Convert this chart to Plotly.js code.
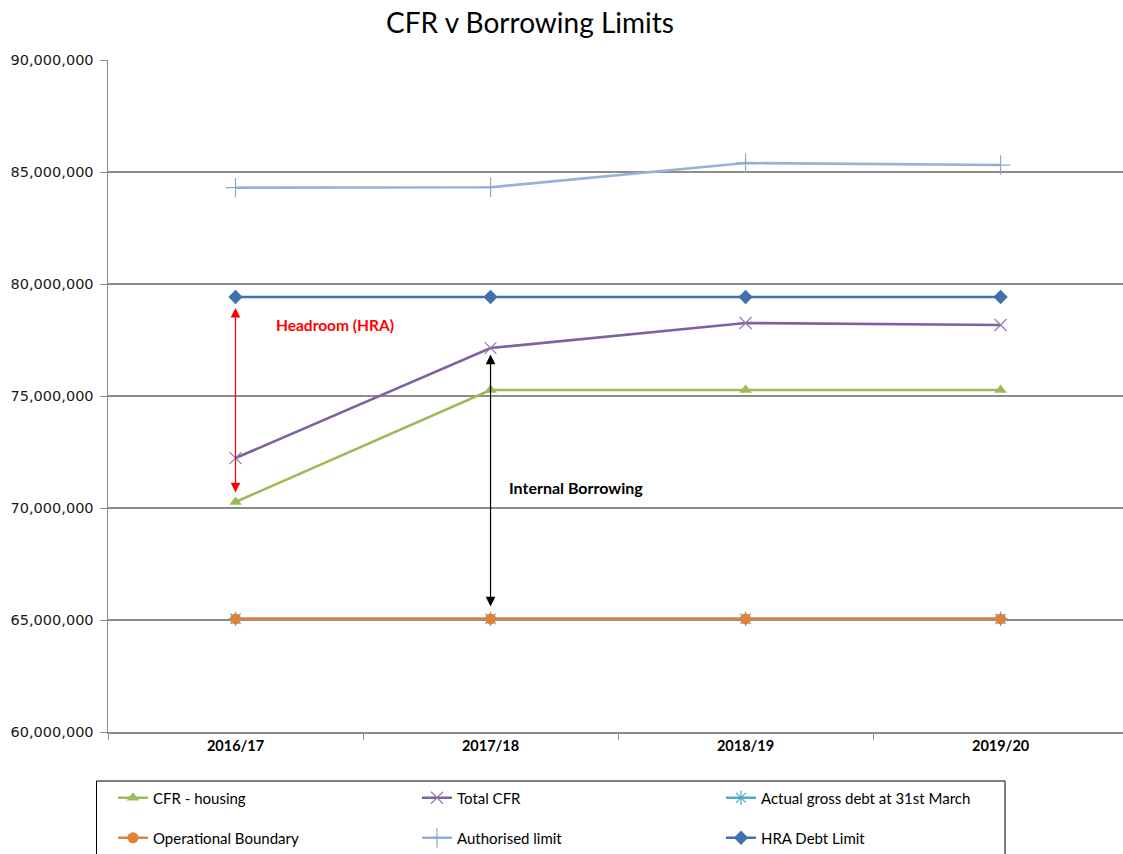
<!DOCTYPE html>
<html>
<head>
<meta charset="utf-8">
<script src="https://cdn.plot.ly/plotly-3.0.1.min.js"></script>
<style>html,body{margin:0;padding:0;background:#fff;}#chart{width:1123px;height:854px;}</style>
</head>
<body>
<div id="chart"></div>
<script>
// ---- data ----
const years = ["2016/17", "2017/18", "2018/19", "2019/20"];
const cfrHousing = [70270000, 75270000, 75270000, 75270000];
const totalCFR = [72230000, 77140000, 78260000, 78170000];
const actualGrossDebt = [65050000, 65050000, 65050000, 65050000];
const operationalBoundary = [65050000, 65050000, 65050000, 65050000];
const authorisedLimit = [84300000, 84320000, 85400000, 85310000];
const hraDebtLimit = [79420000, 79420000, 79420000, 79420000];
const seriesNames = ["CFR - housing", "Total CFR", "Actual gross debt at 31st March",
                     "Operational Boundary", "Authorised limit", "HRA Debt Limit"];
const yTickVals = [60000000, 65000000, 70000000, 75000000, 80000000, 85000000, 90000000];
const headroomArrow = {x: "2016/17", top: 78930000, bottom: 70630000, label: "Headroom (HRA)"};
const internalArrow = {x: "2017/18", top: 76850000, bottom: 65540000, label: "Internal Borrowing"};

const traces = [
  {name: seriesNames[0], y: cfrHousing, color: "#9BBB59",
   marker: {symbol: "triangle-up", size: 11, color: "#9BBB59"}, legend: "legend"},
  {name: seriesNames[1], y: totalCFR, color: "#7E62A0",
   marker: {symbol: "x-thin-open", size: 12, color: "#8F7DB5", line: {width: 1.2, color: "#8F7DB5"}}, legend: "legend"},
  {name: seriesNames[2], y: actualGrossDebt, color: "#4BACC6",
   marker: {symbol: "asterisk-open", size: 12, color: "#4BACC6", line: {width: 1.2, color: "#4BACC6"}}, legend: "legend"},
  {name: seriesNames[3], y: operationalBoundary, color: "#E0823A",
   marker: {symbol: "circle", size: 11, color: "#E0823A"}, legend: "legend2"},
  {name: seriesNames[4], y: authorisedLimit, color: "#95B3D7",
   marker: {symbol: "cross-thin-open", size: 14, color: "#8AA8D0", line: {width: 1.2, color: "#8AA8D0"}}, legend: "legend2"},
  {name: seriesNames[5], y: hraDebtLimit, color: "#3F72AD",
   marker: {symbol: "diamond", size: 11, color: "#3F72AD"}, legend: "legend2"}
].map(t => ({
  type: "scatter", mode: "lines+markers", x: years, y: t.y, name: t.name,
  line: {color: t.color, width: 2.6}, marker: t.marker, legend: t.legend,
  cliponaxis: false
}));

// Plot area: left 108, right 1123, top 60, bottom 732
const px = v => (v - 108) / 1015;
const py = v => (732 - v) / 672;

const legendFont = {family: "Lato, 'Open Sans', sans-serif", size: 15, color: "#000"};

const layout = {
  width: 1123, height: 854,
  margin: {l: 108, r: 0, t: 60, b: 122},
  paper_bgcolor: "#fff", plot_bgcolor: "#fff",
  title: {
    text: "CFR v Borrowing Limits",
    font: {family: "Lato, 'Open Sans', sans-serif", size: 28, color: "#000"},
    x: 530 / 1123, xref: "container", xanchor: "center",
    y: 1 - 23 / 854, yref: "container", yanchor: "middle"
  },
  xaxis: {
    type: "category", range: [-0.5, 3.48],
    showgrid: false, zeroline: false,
    showline: true, linecolor: "#8C8C8C", linewidth: 1.5,
    ticks: "outside", tickson: "boundaries", ticklen: 6, tickcolor: "#8C8C8C", tickwidth: 1,
    tickfont: {family: "Lato, sans-serif", size: 14.5, color: "#000", weight: "bold"},
    fixedrange: true
  },
  yaxis: {
    range: [60000000, 90000000], tickvals: yTickVals, tickformat: ",",
    showgrid: true, gridcolor: "#8C8C8C", gridwidth: 1.2, zeroline: false,
    showline: true, linecolor: "#8C8C8C", linewidth: 1.5,
    ticks: "outside", ticklen: 7, tickcolor: "#8C8C8C", ticklabelstandoff: 3,
    tickfont: {family: "'DejaVu Sans', Verdana, sans-serif", size: 14.5, color: "#1a1a1a"},
    fixedrange: true
  },
  legend: {
    orientation: "h", xref: "container", yref: "container",
    x: 113 / 1123, xanchor: "left", y: 1 - 798 / 854, yanchor: "middle",
    entrywidth: 259, bgcolor: "rgba(0,0,0,0)", borderwidth: 0, font: legendFont,
    traceorder: "normal"
  },
  legend2: {
    orientation: "h", xref: "container", yref: "container",
    x: 113 / 1123, xanchor: "left", y: 1 - 838 / 854, yanchor: "middle",
    entrywidth: 259, bgcolor: "rgba(0,0,0,0)", borderwidth: 0, font: legendFont,
    traceorder: "normal"
  },
  shapes: [
    {type: "rect", xref: "paper", yref: "paper",
     x0: px(96.5), x1: px(1005), y0: py(870), y1: py(781),
     line: {color: "#000", width: 1}, fillcolor: "rgba(0,0,0,0)", layer: "below"}
  ],
  annotations: [
    {x: headroomArrow.x, y: headroomArrow.top, ax: headroomArrow.x, ay: headroomArrow.bottom,
     xref: "x", yref: "y", axref: "x", ayref: "y", text: "", showarrow: true,
     arrowhead: 2, startarrowhead: 2, arrowside: "end+start", arrowsize: 1.6, startarrowsize: 1.6, arrowwidth: 1.2, arrowcolor: "#FF0000"},
    {x: internalArrow.x, y: internalArrow.top, ax: internalArrow.x, ay: internalArrow.bottom,
     xref: "x", yref: "y", axref: "x", ayref: "y", text: "", showarrow: true,
     arrowhead: 2, startarrowhead: 2, arrowside: "end+start", arrowsize: 1.6, startarrowsize: 1.6, arrowwidth: 1.2, arrowcolor: "#000"},
    {xref: "paper", yref: "paper", x: px(274), y: py(325), xanchor: "left", yanchor: "middle",
     text: headroomArrow.label, showarrow: false,
     font: {family: "Lato, sans-serif", size: 15.5, color: "#FF0000", weight: "bold"}},
    {xref: "paper", yref: "paper", x: px(507), y: py(487), xanchor: "left", yanchor: "middle",
     text: internalArrow.label, showarrow: false,
     font: {family: "Lato, sans-serif", size: 16, color: "#000", weight: "bold"}}
  ],
  showlegend: true
};

Plotly.newPlot("chart", traces, layout, {displayModeBar: false, staticPlot: true});
</script>
</body>
</html>
